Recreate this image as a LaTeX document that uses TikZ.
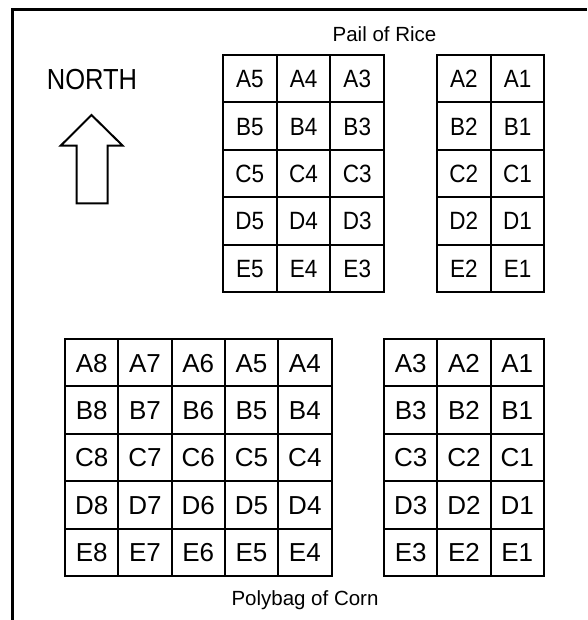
\documentclass[tikz,border=0pt]{standalone}
\usepackage{fontspec}
\setmainfont{Liberation Sans}
\newfontfamily\narrowfont[FakeStretch=0.9]{Liberation Sans}
\newfontfamily\northfont[FakeStretch=0.88]{Liberation Sans}
\begin{document}
\begin{tikzpicture}[x=1pt,y=-1pt,
  gridline/.style={line width=2pt},
  topcell/.style={draw, gridline, minimum width=53.7pt, minimum height=47.4pt, inner sep=0pt,
    text height=17.9pt, text depth=0pt,
    font=\narrowfont\fontsize{25}{25}\selectfont},
  botcell/.style={draw, gridline, minimum width=53.3pt, minimum height=47.4pt, inner sep=0pt,
    text height=18.6pt, text depth=0pt,
    font=\fontsize{26}{26}\selectfont},
  caption/.style={anchor=base, inner sep=0pt, font=\fontsize{20.5}{20.5}\selectfont}]
\useasboundingbox (0,0) rectangle (587,620);
% frame
\draw[line width=3pt] (12.5,620) -- (12.5,10) -- (587,10);
% north
\node[anchor=base, inner sep=0pt, font=\northfont\fontsize{29}{29}\selectfont] (north) at (92,90) {NORTH};
\draw[line width=2pt, line join=miter] (91.5,115) -- (122.7,145.7) -- (107.7,145.7) -- (107.7,203.3)
  -- (76.7,203.3) -- (76.7,145.7) -- (60.7,145.7) -- cycle;
% pail of rice grids
\foreach \r [count=\i from 0] in {A,B,C,D,E} {
  \foreach \c [count=\j from 0] in {5,4,3} {
    \node[topcell] (rice\r\c) at (223+26.85+53.7*\j, 55+23.7+47.4*\i) {\r\c};
  }
  \foreach \c [count=\j from 0] in {2,1} {
    \node[topcell] (rice\r\c) at (437+26.85+53.7*\j, 55+23.7+47.4*\i) {\r\c};
  }
}
\node[caption] (rice) at (384.5,42) {Pail of Rice};
% polybag of corn grids
\foreach \r [count=\i from 0] in {A,B,C,D,E} {
  \foreach \c [count=\j from 0] in {8,7,6,5,4} {
    \node[botcell] (corn\r\c) at (65+26.65+53.3*\j, 339+23.7+47.4*\i) {\r\c};
  }
  \foreach \c [count=\j from 0] in {3,2,1} {
    \node[botcell] (corn\r\c) at (384+26.65+53.3*\j, 339+23.7+47.4*\i) {\r\c};
  }
}
\node[caption] (corn) at (305,605) {Polybag of Corn};
\end{tikzpicture}
\end{document}
